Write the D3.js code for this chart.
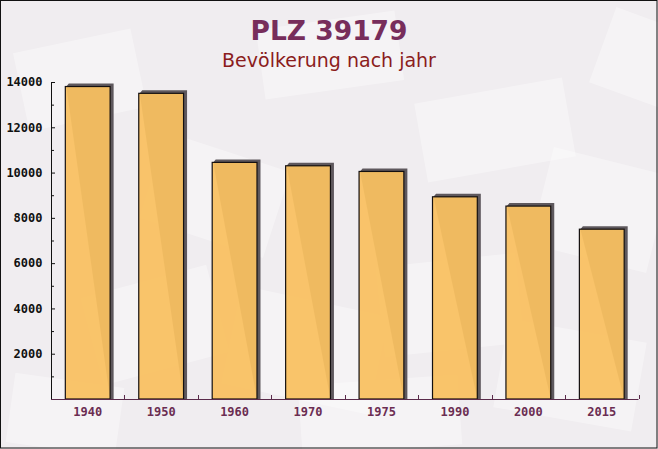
<!DOCTYPE html>
<html>
<head>
<meta charset="utf-8">
<script src="https://cdn.jsdelivr.net/npm/d3@7"></script>
<style>
  html, body { margin: 0; padding: 0; background: #fff; }
  svg { display: block; }
</style>
</head>
<body>
<svg id="chart" width="658" height="449"></svg>
<script>
const years = ["1940", "1950", "1960", "1970", "1975", "1990", "2000", "2015"];
const population = [13800, 13500, 10450, 10300, 10050, 8930, 8520, 7500];
const yTickValues = [2000, 4000, 6000, 8000, 10000, 12000, 14000];
const yMinorTickValues = [1000, 3000, 5000, 7000, 9000, 11000, 13000];
const titleText = "PLZ 39179";
const subtitleText = "Bevölkerung nach jahr";

const W = 658, H = 449;
const svg = d3.select("#chart");

// background
svg.append("rect").attr("width", W).attr("height", H).attr("fill", "#f0edf0");
// faint decorative envelopes
const deco = [
  [20, 40, 120, 80, -12], [150, 150, 130, 90, 18], [260, 20, 140, 70, -8],
  [420, 90, 150, 80, -10], [540, 160, 120, 100, 14], [90, 280, 130, 90, -15],
  [230, 300, 150, 100, 12], [380, 260, 140, 90, -6], [500, 330, 140, 90, 10],
  [600, 20, 90, 80, 20], [10, 380, 110, 70, 8], [300, 380, 160, 70, -4]
];
svg.append("g").selectAll("rect").data(deco).join("rect")
  .attr("x", d => d[0]).attr("y", d => d[1])
  .attr("width", d => d[2]).attr("height", d => d[3])
  .attr("transform", d => `rotate(${d[4]},${d[0] + d[2] / 2},${d[1] + d[3] / 2})`)
  .attr("fill", "#ffffff").attr("opacity", 0.35);

// titles
svg.append("text").attr("x", 329).attr("y", 40).attr("text-anchor", "middle")
  .attr("font-family", "DejaVu Sans, Verdana, sans-serif").attr("font-weight", "bold")
  .attr("font-size", 26.5).attr("fill", "#772d5b").text(titleText);
svg.append("text").attr("x", 329).attr("y", 67).attr("text-anchor", "middle")
  .attr("font-family", "DejaVu Sans, Verdana, sans-serif")
  .attr("font-size", 19).attr("fill", "#8b1c1c").text(subtitleText);

const x0 = 51, x1 = 638.5, yBase = 399, yTop = 82;
const x = d3.scaleBand().domain(years).range([x0, x1]).paddingInner(0.39).paddingOuter(0.195);
const y = d3.scaleLinear().domain([0, 14000]).range([yBase, yTop]);

// bars with shadow
const bars = svg.append("g");
const bw = x.bandwidth();
bars.selectAll("path.shadow").data(years).join("path")
  .attr("class", "shadow")
  .attr("d", (d, i) => {
    const bx = x(d), by = y(population[i]);
    return `M${bx + 1},${by} L${bx + 3.5},${by - 3} L${bx + bw + 3.5},${by - 3} L${bx + bw + 3.5},${yBase} L${bx + bw},${yBase} Z`;
  })
  .attr("fill", "#5e585d");
bars.selectAll("rect.bar").data(years).join("rect")
  .attr("class", "bar")
  .attr("x", d => x(d)).attr("width", bw)
  .attr("y", (d, i) => y(population[i]))
  .attr("height", (d, i) => yBase - y(population[i]))
  .attr("fill", "#f9c061").attr("fill-opacity", 0.94)
  .attr("stroke", "#141010").attr("stroke-width", 1.2);

const monoFont = "DejaVu Sans Mono, monospace";

// y axis
const yAxis = d3.axisRight(y).tickValues(yTickValues).tickSize(4).tickFormat("");
const gy = svg.append("g").attr("transform", `translate(${x0},0)`).call(yAxis);
gy.select(".domain").attr("d", `M0.5,${yTop}V${yBase}`).attr("stroke", "#111");
gy.selectAll(".tick line").attr("stroke", "#111");
const yMinor = d3.axisRight(y).tickValues(yMinorTickValues).tickSize(3).tickFormat("");
const gym = svg.append("g").attr("transform", `translate(${x0},0)`).call(yMinor);
gym.select(".domain").remove();
gym.selectAll(".tick line").attr("stroke", "#111");
svg.append("g").selectAll("text").data(yTickValues).join("text")
  .attr("x", 42.5).attr("y", d => y(d)).attr("dy", "0.36em")
  .attr("text-anchor", "end").attr("font-family", monoFont).attr("font-weight", "bold")
  .attr("font-size", 12).attr("fill", "#111").text(d => d);

// x axis
const boundaries = years.map(d => x(d) + bw + x.step() * x.paddingInner() / 2);
const gx = svg.append("g");
gx.append("line").attr("x1", x0).attr("x2", x1).attr("y1", yBase + 0.5).attr("y2", yBase + 0.5)
  .attr("stroke", "#5a2a4a").attr("stroke-width", 1.2);
gx.selectAll("line.tk").data(boundaries).join("line").attr("class", "tk")
  .attr("x1", d => Math.round(d) + 0.5).attr("x2", d => Math.round(d) + 0.5)
  .attr("y1", yBase).attr("y2", yBase - 4).attr("stroke", "#5a2a4a");
const xAxis = d3.axisBottom(x).tickSize(0).tickPadding(0);
const gxl = svg.append("g").attr("transform", `translate(0,${yBase})`).call(xAxis);
gxl.select(".domain").remove();
gxl.selectAll(".tick text").attr("y", 17).attr("dy", "0")
  .attr("font-family", monoFont).attr("font-weight", "bold")
  .attr("font-size", 12).attr("fill", "#6b2d52");

// border
svg.append("rect").attr("x", 0.5).attr("y", 0.5).attr("width", W - 1.5).attr("height", H - 1.5)
  .attr("fill", "none").attr("stroke", "#111");
</script>
</body>
</html>
